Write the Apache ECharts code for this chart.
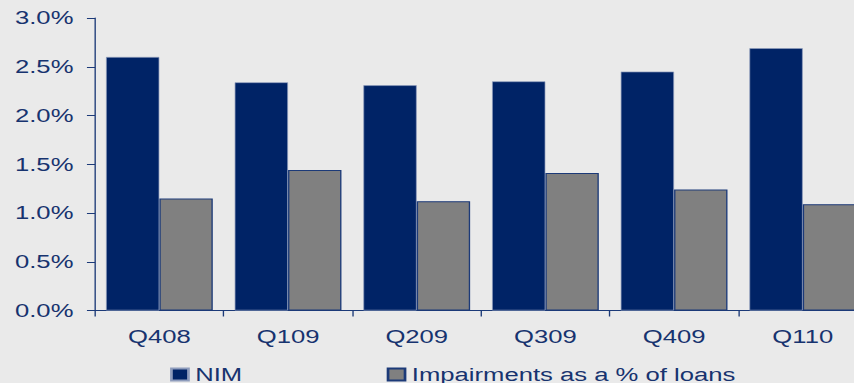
<!DOCTYPE html>
<html>
<head>
<meta charset="utf-8">
<script src="https://cdn.jsdelivr.net/npm/echarts@6/dist/echarts.min.js"></script>
<style>
  html, body { margin: 0; padding: 0; background: #eaeaea; overflow: hidden; }
  /* The chart is laid out narrow and stretched horizontally to get its wide lettering */
  #chart {
    width: 632.6px; height: 383px;
    transform: scaleX(1.35); transform-origin: 0 0;
  }
</style>
</head>
<body>
<div id="chart"></div>
<script>
// Quarterly net interest margin and impairment ratio, in percent
const quarters = ['Q408', 'Q109', 'Q209', 'Q309', 'Q409', 'Q110'];
const nim = [2.60, 2.34, 2.31, 2.35, 2.45, 2.69];
const impairments = [1.15, 1.44, 1.12, 1.41, 1.24, 1.09];
const seriesNames = ['NIM', 'Impairments as a % of loans'];

const navy = '#002366';
const textNavy = '#17336f';
const lineNavy = '#1c3a78';
const font = 'Liberation Sans, Arial, sans-serif';

const chart = echarts.init(document.getElementById('chart'), null, { renderer: 'svg' });
chart.setOption({
  backgroundColor: '#eaeaea',
  animation: false,
  textStyle: { fontFamily: font },
  grid: {
    left: 70.4, top: 18, width: 571.9, height: 292.5,
    outerBoundsMode: 'none', containLabel: false
  },
  legend: {
    left: 126, top: 365, padding: 0,
    itemWidth: 12.6, itemHeight: 12, itemGap: 107,
    icon: 'rect',
    textStyle: { color: textNavy, fontSize: 19, fontFamily: font },
    data: seriesNames
  },
  xAxis: {
    type: 'category',
    data: quarters,
    axisLine: { lineStyle: { color: lineNavy, width: 1 } },
    axisTick: { show: true, length: 6, lineStyle: { color: lineNavy } },
    axisLabel: { color: textNavy, fontSize: 19, margin: 17, fontFamily: font }
  },
  yAxis: {
    type: 'value',
    min: 0, max: 3, interval: 0.5,
    axisLine: { show: true, lineStyle: { color: lineNavy, width: 1 } },
    axisTick: { show: true, length: 6, lineStyle: { color: lineNavy } },
    splitLine: { show: false },
    axisLabel: {
      color: textNavy, fontSize: 19, margin: 16, fontFamily: font,
      formatter: v => v.toFixed(1) + '%'
    }
  },
  series: [
    {
      name: seriesNames[0], type: 'bar', data: nim,
      barGap: '0%', barCategoryGap: '17%',
      itemStyle: { color: navy, borderColor: '#8e9cbc', borderWidth: 0.6 }
    },
    {
      name: seriesNames[1], type: 'bar', data: impairments,
      barGap: '0%', barCategoryGap: '17%',
      itemStyle: { color: '#808080', borderColor: lineNavy, borderWidth: 1 }
    }
  ]
});
</script>
</body>
</html>
